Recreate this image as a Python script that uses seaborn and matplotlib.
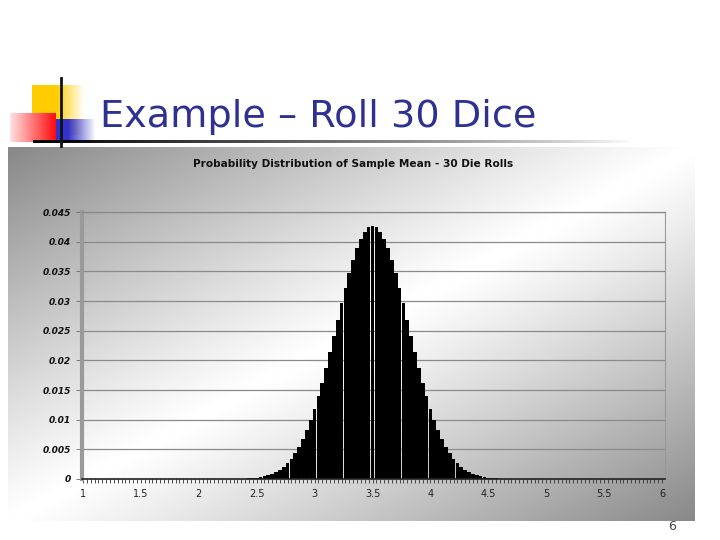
import numpy as np
import pandas as pd
import matplotlib.pyplot as plt
from matplotlib.ticker import FixedLocator
import seaborn as sns

# sum of 30 dice runs 30..180, so the sample mean runs 1..6 in steps of 1/30
sums = np.arange(30, 181)
means = sums / 30

probs = [
    0, 0, 0, 0, 0, 0, 0, 0, 0, 0, 0, 0,
    0, 0, 0, 0, 0, 0, 0, 0, 0, 0, 0, 0,
    0, 0, 0, 0, 0, 0, 0, 0, 0, 0, 0, 0,
    0.00001, 0.00001, 0.00002, 0.00002, 0.00004, 0.00006, 0.00008, 0.00012,
    0.00018, 0.00025, 0.00035, 0.00048, 0.00066, 0.00090, 0.00120, 0.00159,
    0.00208, 0.00268, 0.00343, 0.00434, 0.00542, 0.00670, 0.00818, 0.00988,
    0.01179, 0.01392, 0.01624, 0.01873, 0.02136, 0.02409, 0.02685, 0.02959,
    0.03223, 0.03472, 0.03697, 0.03892, 0.04051, 0.04169, 0.04241,
    0.04265,
    0.04241, 0.04169, 0.04051, 0.03892, 0.03697, 0.03472, 0.03223, 0.02959,
    0.02685, 0.02409, 0.02136, 0.01873, 0.01624, 0.01392, 0.01179, 0.00988,
    0.00818, 0.00670, 0.00542, 0.00434, 0.00343, 0.00268, 0.00208, 0.00159,
    0.00120, 0.00090, 0.00066, 0.00048, 0.00035, 0.00025, 0.00018, 0.00012,
    0.00008, 0.00006, 0.00004, 0.00002, 0.00002, 0.00001, 0.00001,
    0, 0, 0, 0, 0, 0, 0, 0, 0, 0, 0, 0,
    0, 0, 0, 0, 0, 0, 0, 0, 0, 0, 0, 0,
    0, 0, 0, 0, 0, 0, 0, 0, 0, 0, 0, 0,
]

yticks = [0, 0.005, 0.01, 0.015, 0.02, 0.025, 0.03, 0.035, 0.04, 0.045]
ytick_labels = ['0', '0.005', '0.01', '0.015', '0.02', '0.025', '0.03', '0.035', '0.04', '0.045']
xticks = [1, 1.5, 2, 2.5, 3, 3.5, 4, 4.5, 5, 5.5, 6]
xtick_labels = ['1', '1.5', '2', '2.5', '3', '3.5', '4', '4.5', '5', '5.5', '6']

slide_title = 'Example – Roll 30 Dice'
chart_title = 'Probability Distribution of Sample Mean - 30 Die Rolls'

df = pd.DataFrame({'mean': means, 'prob': probs})

fig = plt.figure(figsize=(7.2, 5.4), dpi=100)
fig.patch.set_facecolor('white')

# slide layer in pixel coordinates
bg = fig.add_axes([0, 0, 1, 1], zorder=0)
bg.axis('off')

# grey diagonal gradient behind the chart
H, W = 374, 687
yy, xx = np.mgrid[0:H, 0:W]
t = (xx / W + yy / H) / 2
g = 1 - 0.47 * np.abs(2 * t - 1) ** 1.1
bg.imshow(g, cmap='gray', vmin=0, vmax=1, extent=(8, 695, 521, 147),
          aspect='auto', interpolation='bilinear')

# logo squares
def grad_block(rgb_left, rgb_right, w, h, fade_from=None):
    u = np.linspace(0, 1, w)
    img = np.zeros((h, w, 4))
    for c in range(3):
        img[:, :, c] = rgb_left[c] + (rgb_right[c] - rgb_left[c]) * u
    alpha = np.ones(w)
    if fade_from is not None:
        alpha = np.clip((1 - u) / (1 - fade_from), 0, 1)
    img[:, :, 3] = alpha
    return img

bg.imshow(grad_block((1, 0.8, 0), (1, 0.8, 0), 53, 50, fade_from=0.45),
          extent=(32, 85, 135, 85), aspect='auto')
bg.imshow(grad_block((1, 0.88, 0.88), (1, 0.05, 0.05), 46, 29),
          extent=(10, 56, 142, 113), aspect='auto')
bg.imshow(grad_block((0.2, 0.2, 0.8), (0.2, 0.2, 0.8), 40, 23, fade_from=0.3),
          extent=(56, 96, 142, 119), aspect='auto')

line = np.zeros((1, 600, 4))
line[0, :, 3] = np.linspace(1, 0, 600) ** 0.8
bg.imshow(line, extent=(33, 633, 143, 140), aspect='auto')
bg.plot([61, 61], [78, 146], color='#111111', lw=2)

bg.text(100, 127, slide_title, fontsize=27.5, color='#2e3192',
        ha='left', va='baseline')
bg.text(353, 164, chart_title, fontsize=7.6, fontweight='bold',
        color='#111111', ha='center', va='center')
bg.text(672, 526, '6', fontsize=9, color='#444444', ha='center', va='center')

bg.set_xlim(0, 720)
bg.set_ylim(540, 0)

# the chart itself
ax = fig.add_axes([82 / 720, 1 - 479 / 540, (665 - 82) / 720, (479 - 212) / 540], zorder=1)
ax.patch.set_alpha(0)
sns.barplot(data=df, x='mean', y='prob', native_scale=True, color='black',
            saturation=1, width=0.96, linewidth=0, errorbar=None, ax=ax)

ax.set_xlim(1 - 1 / 116, 6 + 3 / 116)
ax.set_ylim(0, 0.045)
ax.set_xlabel('')
ax.set_ylabel('')

ax.set_xticks(xticks)
ax.set_xticklabels(xtick_labels, fontsize=7, color='#222222')
ax.xaxis.set_minor_locator(FixedLocator(means))
ax.tick_params(axis='x', which='both', direction='out', length=3,
               width=0.6, color='#333333', pad=4)

ax.set_yticks(yticks)
ax.set_yticklabels(ytick_labels, fontsize=6.5, fontweight='bold',
                   fontstyle='italic', color='#111111')
ax.tick_params(axis='y', length=4, width=0.6, color='#666666', pad=4)

ax.grid(axis='y', color='#8a8a8a', lw=0.9)
ax.set_axisbelow(True)

ax.spines['left'].set_color('#9a9a9a')
ax.spines['left'].set_linewidth(3)
ax.spines['bottom'].set_color('#222222')
ax.spines['bottom'].set_linewidth(1.2)
ax.spines['right'].set_color('#999999')
ax.spines['right'].set_linewidth(0.8)
ax.spines['top'].set_color('#8a8a8a')
ax.spines['top'].set_linewidth(0.9)

fig.savefig('out.png', dpi=100)
